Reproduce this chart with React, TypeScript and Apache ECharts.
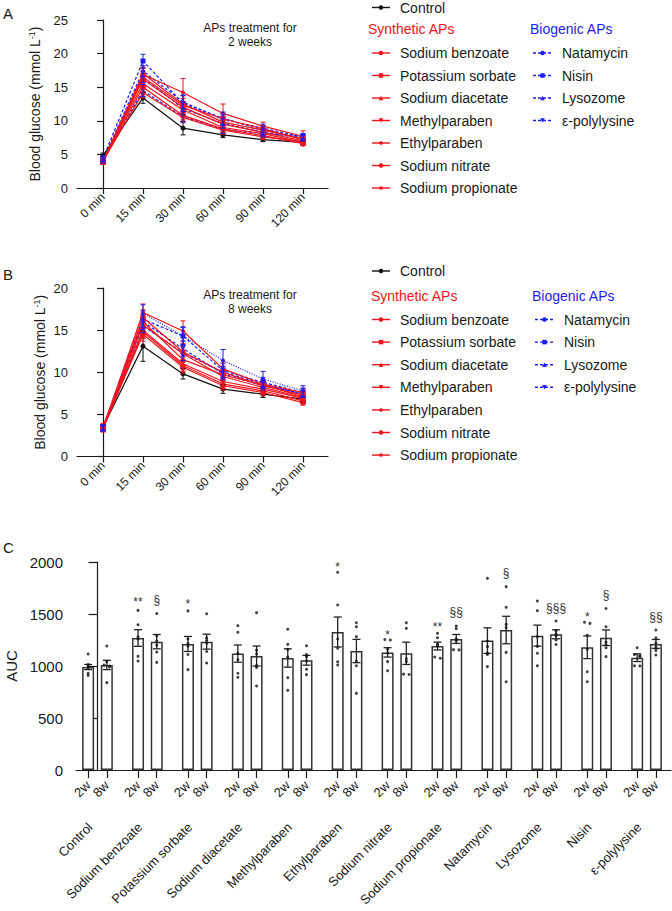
import React, { useEffect, useRef } from 'react';
import * as echarts from 'echarts';

const FONT = 'Liberation Sans, Arial, Helvetica, sans-serif';
const RED = '#f2141c';
const BLUE = '#1d1df2';
const BLACK = '#111111';
const INK = '#1a1a1a';

// ---------- Panels A & B : glucose tolerance curves ----------
const timeLabels = ['0 min', '15 min', '30 min', '60 min', '90 min', '120 min'];
const timeIndex = [0, 1, 2, 3, 4, 5];

const curveNames = ['Control', 'Sodium benzoate', 'Potassium sorbate', 'Sodium diacetate', 'Methylparaben', 'Ethylparaben', 'Sodium nitrate', 'Sodium propionate', 'Natamycin', 'Nisin', 'Lysozome', 'ε-polylysine'];

// 2 weeks (mean)
const control2w = [4.8, 13.4, 8.9, 7.9, 7.2, 6.8];
const benzoate2w = [4.0, 16.9, 14.2, 11.1, 9.2, 7.7];
const sorbate2w = [3.8, 16.5, 12.3, 10.3, 8.8, 7.2];
const diacetate2w = [3.9, 16.2, 12.0, 9.5, 8.3, 7.0];
const methylparaben2w = [4.2, 15.5, 11.6, 9.0, 8.1, 6.8];
const ethylparaben2w = [3.9, 17.0, 12.5, 9.8, 8.6, 7.3];
const nitrate2w = [4.1, 15.0, 10.8, 8.8, 7.8, 6.6];
const propionate2w = [4.0, 14.2, 10.5, 8.6, 7.6, 6.9];
const natamycin2w = [4.2, 17.4, 12.8, 10.2, 8.9, 7.6];
const nisin2w = [4.4, 18.9, 12.6, 10.4, 8.6, 7.5];
const lysozome2w = [4.0, 16.5, 11.8, 9.6, 8.3, 7.4];
const polylysine2w = [4.3, 14.5, 10.6, 8.7, 8.1, 7.7];
// 2 weeks (SEM)
const control2wSem = [0.4, 0.8, 1.0, 0.4, 0.3, 0.4];
const benzoate2wSem = [0.3, 0.9, 2.1, 1.4, 0.6, 0.8];
const sorbate2wSem = [0.3, 0.8, 1.0, 0.8, 0.5, 0.4];
const diacetate2wSem = [0.3, 0.7, 0.8, 0.6, 0.5, 0.4];
const methylparaben2wSem = [0.3, 0.8, 0.9, 0.7, 0.5, 0.4];
const ethylparaben2wSem = [0.3, 1.0, 1.2, 0.9, 0.6, 0.5];
const nitrate2wSem = [0.3, 0.9, 0.7, 0.5, 0.4, 0.3];
const propionate2wSem = [0.3, 0.8, 0.8, 0.6, 0.4, 0.4];
const natamycin2wSem = [0.3, 0.8, 1.0, 0.8, 0.6, 0.4];
const nisin2wSem = [0.4, 1.0, 1.2, 0.9, 0.6, 0.5];
const lysozome2wSem = [0.3, 0.8, 0.9, 0.7, 0.5, 0.4];
const polylysine2wSem = [0.3, 0.9, 0.8, 0.6, 0.5, 0.4];

// 8 weeks (mean)
const control8w = [3.5, 13.1, 9.8, 8.0, 7.4, 6.8];
const benzoate8w = [3.3, 17.1, 14.9, 10.4, 8.6, 7.6];
const sorbate8w = [3.4, 16.5, 12.4, 10.0, 8.4, 7.3];
const diacetate8w = [3.2, 16.0, 11.5, 9.7, 8.5, 7.1];
const methylparaben8w = [3.5, 15.0, 11.0, 8.9, 8.0, 6.9];
const ethylparaben8w = [3.3, 14.8, 10.8, 8.6, 7.8, 6.6];
const nitrate8w = [3.4, 14.5, 10.6, 8.4, 7.6, 6.4];
const propionate8w = [3.6, 15.6, 12.2, 9.5, 8.2, 7.0];
const natamycin8w = [3.5, 17.0, 14.3, 11.4, 9.2, 7.8];
const nisin8w = [3.4, 16.3, 14.3, 10.2, 8.8, 7.6];
const lysozome8w = [3.5, 15.5, 12.3, 10.0, 8.6, 7.4];
const polylysine8w = [3.3, 16.0, 12.8, 9.8, 8.4, 7.5];
// 8 weeks (SEM)
const control8wSem = [0.3, 1.8, 0.6, 0.5, 0.4, 0.3];
const benzoate8wSem = [0.3, 1.0, 1.2, 0.8, 0.5, 0.5];
const sorbate8wSem = [0.3, 0.9, 1.0, 0.7, 0.5, 0.4];
const diacetate8wSem = [0.3, 0.8, 0.8, 0.6, 0.4, 0.4];
const methylparaben8wSem = [0.3, 0.9, 0.7, 0.5, 0.4, 0.3];
const ethylparaben8wSem = [0.3, 0.8, 0.7, 0.5, 0.4, 0.3];
const nitrate8wSem = [0.3, 0.8, 0.7, 0.5, 0.4, 0.3];
const propionate8wSem = [0.3, 0.9, 0.9, 0.6, 0.4, 0.4];
const natamycin8wSem = [0.3, 1.0, 1.0, 1.3, 0.9, 0.6];
const nisin8wSem = [0.3, 1.0, 1.1, 0.8, 0.6, 0.5];
const lysozome8wSem = [0.3, 0.8, 0.9, 0.7, 0.5, 0.4];
const polylysine8wSem = [0.3, 0.9, 0.9, 0.7, 0.5, 0.4];

const means2w = [control2w, benzoate2w, sorbate2w, diacetate2w, methylparaben2w, ethylparaben2w, nitrate2w, propionate2w, natamycin2w, nisin2w, lysozome2w, polylysine2w];
const sems2w = [control2wSem, benzoate2wSem, sorbate2wSem, diacetate2wSem, methylparaben2wSem, ethylparaben2wSem, nitrate2wSem, propionate2wSem, natamycin2wSem, nisin2wSem, lysozome2wSem, polylysine2wSem];
const means8w = [control8w, benzoate8w, sorbate8w, diacetate8w, methylparaben8w, ethylparaben8w, nitrate8w, propionate8w, natamycin8w, nisin8w, lysozome8w, polylysine8w];
const sems8w = [control8wSem, benzoate8wSem, sorbate8wSem, diacetate8wSem, methylparaben8wSem, ethylparaben8wSem, nitrate8wSem, propionate8wSem, natamycin8wSem, nisin8wSem, lysozome8wSem, polylysine8wSem];

// styles
const curveColor = [BLACK, RED, RED, RED, RED, RED, RED, RED, BLUE, BLUE, BLUE, BLUE];
const curveKind = ['circle', 'circle', 'rect', 'triUp', 'triDown', 'diamond', 'circle', 'star', 'circle', 'rect', 'triUp', 'triDown'];
const curveSize = [5, 4, 5, 5, 5, 6, 6, 7, 4, 5, 5, 5];

// ---------- Panel C : AUC ----------
const aucGroups = ['Control', 'Sodium benzoate', 'Potassium sorbate', 'Sodium diacetate', 'Methylparaben', 'Ethylparaben', 'Sodium nitrate', 'Sodium propionate', 'Natamycin', 'Lysozome', 'Nisin', 'ε-polylysine'];
const aucWeeks = ['2w', '8w'];
const aucTicks = [0, 500, 1000, 1500, 2000];
const aucMean2w = [990, 1269, 1212, 1119, 1077, 1327, 1131, 1192, 1244, 1292, 1180, 1080];
const aucMean8w = [1010, 1234, 1234, 1096, 1055, 1144, 1122, 1260, 1346, 1305, 1272, 1212];
const aucSem2w = [25, 80, 72, 83, 88, 144, 45, 38, 123, 101, 109, 37];
const aucSem8w = [45, 69, 72, 96, 47, 112, 107, 43, 132, 43, 75, 43];
const aucDots2w = [
  [1115, 1015, 1000, 985, 930, 910],
  [1535, 1397, 1280, 1260, 1093, 1048],
  [1530, 1260, 1215, 1190, 1110, 965],
  [1388, 1324, 1122, 1060, 930, 891],
  [1353, 1208, 1160, 1087, 888, 766],
  [1901, 1587, 1260, 1170, 1040, 1010],
  [1255, 1250, 1160, 1124, 1042, 955],
  [1314, 1272, 1210, 1194, 1087, 1075],
  [1843, 1240, 1186, 1125, 1110, 994],
  [1625, 1532, 1282, 1188, 1122, 1003],
  [1420, 1410, 1295, 1161, 945, 849],
  [1176, 1110, 1100, 1090, 1003, 1001],
];
const aucDots8w = [
  [1192, 1040, 1010, 1000, 990, 840],
  [1505, 1290, 1240, 1200, 1134, 1035],
  [1503, 1270, 1245, 1220, 1140, 1029],
  [1513, 1150, 1115, 1005, 985, 808],
  [1195, 1110, 1090, 1050, 968, 917],
  [1416, 1378, 1282, 1048, 1003, 737],
  [1416, 1362, 1070, 1044, 922, 918],
  [1385, 1359, 1262, 1242, 1157, 1155],
  [1763, 1564, 1400, 1369, 1131, 849],
  [1433, 1340, 1310, 1290, 1250, 1207],
  [1553, 1378, 1230, 1205, 1176, 1090],
  [1346, 1270, 1220, 1180, 1150, 1106],
];
// significance marks: group index, week index, text, value position
const sigGroup = [1, 1, 2, 5, 6, 7, 7, 8, 9, 10, 10, 11];
const sigWeek = [0, 1, 0, 0, 0, 0, 1, 1, 1, 0, 1, 1];
const sigText = ['**', '§', '*', '*', '*', '**', '§§', '§', '§§§', '*', '§', '§§'];
const sigValue = [1615, 1638, 1595, 1955, 1300, 1378, 1516, 1891, 1553, 1468, 1683, 1474];

const WEEK_OFFSET = 0.1875;
const C_MIN = -0.43;
const C_MAX = 11.49;

function starPoints(cx: number, cy: number, r: number) {
  const pts: number[][] = [];
  for (let k = 0; k < 10; k++) {
    const rr = k % 2 === 0 ? r : r * 0.45;
    const a = -Math.PI / 2 + (k * Math.PI) / 5;
    pts.push([cx + rr * Math.cos(a), cy + rr * Math.sin(a)]);
  }
  return pts;
}

function markerGraphic(kind: string, cx: number, cy: number, color: string, size: number): any {
  const s = size / 2;
  const style = { fill: color };
  switch (kind) {
    case 'rect':
      return { type: 'rect', shape: { x: cx - s, y: cy - s, width: size, height: size }, style };
    case 'triUp':
      return { type: 'polygon', shape: { points: [[cx, cy - s], [cx + s, cy + s], [cx - s, cy + s]] }, style };
    case 'triDown':
      return { type: 'polygon', shape: { points: [[cx - s, cy - s], [cx + s, cy - s], [cx, cy + s]] }, style };
    case 'diamond':
      return { type: 'polygon', shape: { points: [[cx, cy - s], [cx + s, cy], [cx, cy + s], [cx - s, cy]] }, style };
    case 'star':
      return { type: 'polygon', shape: { points: starPoints(cx, cy, s + 0.5) }, style };
    default:
      return { type: 'circle', shape: { cx, cy, r: s }, style };
  }
}

const symbolFor: Record<string, string> = {
  circle: 'circle',
  rect: 'rect',
  triUp: 'triangle',
  triDown: 'path://M0,0L10,0L5,9Z',
  diamond: 'diamond',
  star: 'path://M5,0L6.2,3.6L10,3.6L6.9,5.8L8.1,9.5L5,7.2L1.9,9.5L3.1,5.8L0,3.6L3.8,3.6Z',
};

function legendItem(k: number, x1: number, x2: number, tx: number, y: number, dash: number[] | null) {
  const color = curveColor[k];
  return [
    { type: 'line', silent: true, shape: { x1, y1: y, x2, y2: y }, style: { stroke: color, lineWidth: 1.4, lineDash: dash } },
    { ...markerGraphic(curveKind[k], (x1 + x2) / 2, y, color, 4.5), silent: true },
    { type: 'text', silent: true, x: tx, y, style: { text: curveNames[k], fill: INK, fontSize: 14, fontFamily: FONT, textAlign: 'left', textVerticalAlign: 'middle' } },
  ];
}

function legendBlock(yControl: number, yHeader: number, yItem0: number, step: number, synX: number, bioX: number) {
  const els: any[] = [];
  els.push(...legendItem(0, 372, 390, 400, yControl, null));
  els.push({ type: 'text', silent: true, x: synX, y: yHeader, style: { text: 'Synthetic APs', fill: RED, fontSize: 14, fontFamily: FONT, textAlign: 'left', textVerticalAlign: 'middle' } });
  els.push({ type: 'text', silent: true, x: bioX, y: yHeader, style: { text: 'Biogenic APs', fill: BLUE, fontSize: 14, fontFamily: FONT, textAlign: 'left', textVerticalAlign: 'middle' } });
  for (let k = 1; k <= 7; k++) els.push(...legendItem(k, 372, 390, 400, yItem0 + (k - 1) * step, null));
  for (let k = 8; k <= 11; k++) els.push(...legendItem(k, bioX + 3, bioX + 22, bioX + 32, yItem0 + (k - 8) * step, [3, 2]));
  return els;
}

function textEl(text: string, x: number, y: number, size: number, align = 'left') {
  return { type: 'text', silent: true, x, y, style: { text, fill: INK, fontSize: size, fontFamily: FONT, textAlign: align, textVerticalAlign: 'middle', lineHeight: 14 } };
}

function errorSeries(xi: number, yi: number, data: number[][], color: string, cap: number, width: number, z: number) {
  return {
    type: 'custom',
    xAxisIndex: xi,
    yAxisIndex: yi,
    z,
    silent: true,
    encode: { x: 0, y: [1, 2] },
    data,
    renderItem: (params: any, api: any) => {
      const x = api.value(0);
      const p1 = api.coord([x, api.value(1)]);
      const p2 = api.coord([x, api.value(2)]);
      const st = { stroke: color, lineWidth: width };
      return {
        type: 'group',
        children: [
          { type: 'line', shape: { x1: p1[0], y1: p1[1], x2: p2[0], y2: p2[1] }, style: st },
          { type: 'line', shape: { x1: p1[0] - cap, y1: p1[1], x2: p1[0] + cap, y2: p1[1] }, style: st },
          { type: 'line', shape: { x1: p2[0] - cap, y1: p2[1], x2: p2[0] + cap, y2: p2[1] }, style: st },
        ],
      };
    },
  };
}

function buildOption() {
  const axisLineStyle = { color: INK, width: 1.2 };
  const labelBase = { color: INK, fontFamily: FONT };
  const plain = (v: number) => String(v);

  const glucoseX = (gi: number) => ({
    gridIndex: gi,
    type: 'value',
    position: 'bottom',
    min: -0.65,
    max: 5.625,
    splitLine: { show: false },
    axisLine: { show: true, lineStyle: axisLineStyle },
    axisTick: { show: true, customValues: timeIndex, length: 6, lineStyle: axisLineStyle },
    axisLabel: { ...labelBase, customValues: timeIndex, formatter: (v: number) => timeLabels[Math.round(v)], rotate: 45, fontSize: 12, margin: 7, hideOverlap: false },
  });
  const glucoseY = (gi: number, max: number, gap: number) => ({
    gridIndex: gi,
    type: 'value',
    min: 0,
    max,
    interval: 5,
    splitLine: { show: false },
    axisLine: { show: true, lineStyle: axisLineStyle },
    axisTick: { show: true, length: 6, lineStyle: axisLineStyle },
    axisLabel: { ...labelBase, fontSize: 13, margin: 9, formatter: plain },
    name: 'Blood glucose (mmol L{sup|-1})',
    nameLocation: 'middle',
    nameGap: gap,
    nameRotate: 90,
    nameTextStyle: { ...labelBase, fontSize: 14, rich: { sup: { fontSize: 9, fontFamily: FONT, color: INK, verticalAlign: 'top', padding: [0, 0, 7, 0] } } },
  });

  const barPositions: number[] = [];
  const barLabels: string[] = [];
  const barMeans: number[] = [];
  const barSems: number[] = [];
  const barDots: number[][] = [];
  aucGroups.forEach((g, i) => {
    barPositions.push(i - WEEK_OFFSET, i + WEEK_OFFSET);
    barLabels.push(aucWeeks[0], aucWeeks[1]);
    barMeans.push(aucMean2w[i], aucMean8w[i]);
    barSems.push(aucSem2w[i], aucSem8w[i]);
    barDots.push(aucDots2w[i], aucDots8w[i]);
  });
  const groupPositions = aucGroups.map((g, i) => i - WEEK_OFFSET);
  // empty labels at both axis ends keep the real first/last labels visible
  const weekLabelValues = [C_MIN, ...barPositions, C_MAX];

  const findIndex = (arr: number[], v: number) => arr.findIndex((p) => Math.abs(p - v) < 1e-6);

  const series: any[] = [];
  [means2w, means8w].forEach((panel, p) => {
    const sems = p === 0 ? sems2w : sems8w;
    panel.forEach((m, k) => {
      const dash: any = k >= 8 ? (p === 1 && k === 8 ? [1, 1.5] : [3, 2]) : 'solid';
      series.push({
        type: 'line',
        name: curveNames[k],
        xAxisIndex: p,
        yAxisIndex: p,
        data: m.map((v, i) => [timeIndex[i], v]),
        symbol: symbolFor[curveKind[k]],
        symbolSize: curveSize[k],
        showSymbol: true,
        lineStyle: { color: curveColor[k], width: 1.2, type: dash },
        itemStyle: { color: curveColor[k] },
        z: k === 0 ? 4 : k >= 8 ? 3 : 5,
        silent: true,
      });
      series.push(errorSeries(p, p, m.map((v, i) => [timeIndex[i], v - sems[k][i], v + sems[k][i]]), curveColor[k], 2.5, 1, 6));
    });
  });

  // Panel C
  series.push({
    type: 'bar',
    xAxisIndex: 2,
    yAxisIndex: 2,
    data: barPositions.map((x, j) => [x, barMeans[j]]),
    barWidth: 12,
    itemStyle: { color: '#ffffff', borderColor: '#333333', borderWidth: 1.5 },
    z: 2,
    silent: true,
  });
  series.push(errorSeries(2, 2, barPositions.map((x, j) => [x, barMeans[j] - barSems[j], barMeans[j] + barSems[j]]), '#222222', 4, 1.3, 4));
  const dotData: number[][] = [];
  barPositions.forEach((x, j) => {
    const vals = barDots[j];
    vals.forEach((v, k) => {
      const prevClose = k > 0 && Math.abs(vals[k - 1] - v) <= 12;
      const nextClose = k < vals.length - 1 && Math.abs(vals[k + 1] - v) <= 12;
      let dx = 0;
      if (nextClose && !prevClose) dx = -0.055;
      else if (prevClose) dx = 0.055;
      dotData.push([x + dx, v]);
    });
  });
  series.push({
    type: 'scatter',
    xAxisIndex: 2,
    yAxisIndex: 2,
    data: dotData,
    symbol: 'circle',
    symbolSize: 3,
    itemStyle: { color: '#111111' },
    z: 5,
    silent: true,
  });
  series.push({
    type: 'custom',
    xAxisIndex: 2,
    yAxisIndex: 2,
    z: 6,
    silent: true,
    data: sigGroup.map((g, k) => [g + (sigWeek[k] === 1 ? WEEK_OFFSET : -WEEK_OFFSET), sigValue[k], k]),
    renderItem: (params: any, api: any) => {
      const pt = api.coord([api.value(0), api.value(1)]);
      const k = api.value(2);
      return { type: 'text', x: pt[0], y: pt[1], style: { text: sigText[k], fill: '#333333', fontSize: 12, fontFamily: FONT, textAlign: 'center', textVerticalAlign: 'middle' } };
    },
  });
  // group names below the 2w/8w labels, rotated 45°
  series.push({
    type: 'custom',
    xAxisIndex: 2,
    yAxisIndex: 2,
    z: 6,
    clip: false,
    silent: true,
    data: groupPositions.map((x, i) => [x, 0, i]),
    renderItem: (params: any, api: any) => {
      const pt = api.coord([api.value(0), api.value(1)]);
      const i = api.value(2);
      return {
        type: 'text',
        x: pt[0] + 2,
        y: pt[1] + 55,
        rotation: Math.PI / 4,
        style: { text: aucGroups[i], fill: INK, fontSize: 13, fontFamily: FONT, textAlign: 'right', textVerticalAlign: 'middle' },
      };
    },
  });

  const graphic: any[] = [
    textEl('A', 3, 13, 15),
    textEl('B', 3, 274, 15),
    textEl('C', 3, 547, 15),
    { type: 'text', silent: true, x: 250, y: 21, style: { text: 'APs treatment for\n2 weeks', fill: INK, fontSize: 12, fontFamily: FONT, textAlign: 'center', textVerticalAlign: 'top', lineHeight: 14 } },
    { type: 'text', silent: true, x: 250, y: 288, style: { text: 'APs treatment for\n8 weeks', fill: INK, fontSize: 12, fontFamily: FONT, textAlign: 'center', textVerticalAlign: 'top', lineHeight: 14 } },
    ...legendBlock(7.5, 28.5, 53, 22.5, 368, 530),
    ...legendBlock(271, 296, 319.5, 22.6, 371, 532),
  ];

  return {
    animation: false,
    backgroundColor: '#ffffff',
    textStyle: { fontFamily: FONT },
    grid: [
      { left: 77, top: 20, width: 251, height: 168, outerBoundsMode: 'none', containLabel: false },
      { left: 77, top: 288, width: 251, height: 168.5, outerBoundsMode: 'none', containLabel: false },
      { left: 76, top: 562, width: 595, height: 208, outerBoundsMode: 'none', containLabel: false },
    ],
    xAxis: [
      glucoseX(0),
      glucoseX(1),
      {
        gridIndex: 2,
        type: 'value',
        position: 'bottom',
        min: C_MIN,
        max: C_MAX,
        splitLine: { show: false },
        axisLine: { show: true, lineStyle: axisLineStyle },
        axisTick: { show: true, customValues: barPositions, length: 8, lineStyle: axisLineStyle },
        axisLabel: {
          ...labelBase,
          customValues: weekLabelValues,
          formatter: (v: number) => barLabels[findIndex(barPositions, v)] || '',
          rotate: 45,
          fontSize: 13,
          margin: 13,
          hideOverlap: false,
        },
      },
    ],
    yAxis: [
      glucoseY(0, 25, 34),
      glucoseY(1, 20, 29),
      {
        gridIndex: 2,
        type: 'value',
        min: aucTicks[0],
        max: aucTicks[aucTicks.length - 1],
        interval: 500,
        splitLine: { show: false },
        axisLine: { show: true, lineStyle: axisLineStyle },
        axisTick: { show: true, length: 9, lineStyle: axisLineStyle },
        axisLabel: { ...labelBase, fontSize: 15, margin: 13, formatter: plain },
        name: 'AUC',
        nameLocation: 'middle',
        nameGap: 53,
        nameRotate: 90,
        nameTextStyle: { ...labelBase, fontSize: 15 },
      },
    ],
    graphic,
    series,
  };
}

export default function App() {
  const ref = useRef<HTMLDivElement>(null);
  useEffect(() => {
    if (!ref.current) return;
    const chart = echarts.init(ref.current, undefined, { renderer: 'svg' });
    chart.setOption(buildOption() as any);
    return () => chart.dispose();
  }, []);
  return <div ref={ref} style={{ position: 'absolute', left: 0, top: 0, width: 672, height: 911, background: '#fff' }} />;
}
